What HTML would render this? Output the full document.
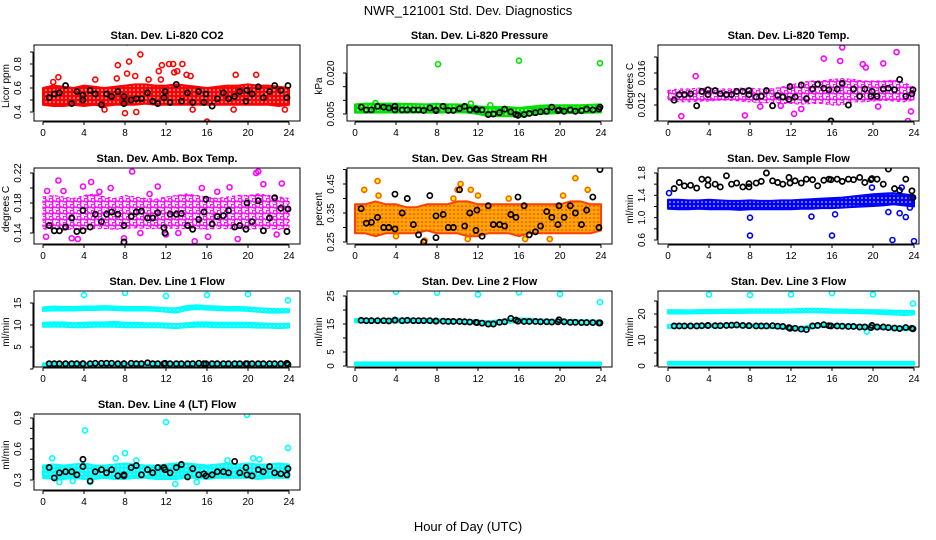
<!DOCTYPE html>
<html><head><meta charset="utf-8"><style>
html,body{margin:0;padding:0;background:#fff;}
svg{display:block;font-family:"Liberation Sans",sans-serif;}
</style></head><body>
<svg id="c" width="936" height="540" viewBox="0 0 936 540" xmlns="http://www.w3.org/2000/svg">
<text x="468" y="15" text-anchor="middle" font-size="13">NWR_121001  Std. Dev. Diagnostics</text>
<text x="468" y="531" text-anchor="middle" font-size="13">Hour of Day (UTC)</text>
</svg>
<script>
const hours = [0,1,2,3,4,5,6,7,8,9,10,11,12,13,14,15,16,17,18,19,20,21,22,23,24];
const blackT = [0.6,1.1,1.6,2.2,2.8,3.3,3.9,3.9,4.6,5.1,5.7,6.2,6.7,7.3,7.9,7.9,8.6,9.1,9.6,10.2,10.7,11.2,11.8,11.9,12.4,13.0,13.5,14.1,14.6,15.2,15.7,15.9,16.5,17.0,17.6,18.1,18.7,19.2,19.8,19.9,20.4,21.0,21.5,22.1,22.6,23.2,23.8,23.9];

// Panel 1 CO2
const co2Lo = [0.46,0.45,0.45,0.46,0.45,0.46,0.45,0.46,0.46,0.46,0.47,0.46,0.46,0.46,0.46,0.46,0.46,0.46,0.46,0.46,0.46,0.46,0.46,0.45,0.46];
const co2Hi = [0.60,0.62,0.61,0.60,0.62,0.61,0.60,0.61,0.62,0.63,0.63,0.62,0.62,0.63,0.62,0.61,0.60,0.61,0.62,0.62,0.63,0.62,0.62,0.61,0.60];
const co2OutT = [1.5,1.0,7.3,7.2,8.2,8.4,8.2,9.5,9.0,8.0,9.1,11.3,11.6,11.5,12.3,12.7,12.8,13.1,13.6,14.0,14.4,14.6,16.0,6.0,18.8,20.8,18.6,23.6,5.1,10.3];
const co2OutV = [0.69,0.65,0.79,0.68,0.98,0.82,0.72,0.88,0.70,0.39,0.40,0.74,0.79,0.67,0.80,0.80,0.73,0.74,0.80,0.71,0.70,0.42,0.32,0.42,0.71,0.71,0.42,0.42,0.67,0.67];
const co2Black = [0.52,0.55,0.56,0.62,0.47,0.57,0.50,0.54,0.58,0.55,0.46,0.55,0.53,0.57,0.53,0.47,0.50,0.51,0.51,0.56,0.49,0.47,0.52,0.57,0.48,0.63,0.49,0.56,0.48,0.57,0.48,0.55,0.45,0.51,0.56,0.51,0.53,0.57,0.49,0.58,0.55,0.61,0.52,0.57,0.62,0.58,0.52,0.62];
// Panel 2 Pressure
const prLo = [0.0055,0.0055,0.0055,0.0056,0.0055,0.0055,0.0056,0.0055,0.0055,0.0056,0.0056,0.0055,0.0050,0.0042,0.0042,0.0042,0.0040,0.0045,0.0050,0.0052,0.0053,0.0053,0.0054,0.0055,0.0056];
const prHi = [0.0085,0.0088,0.0088,0.0088,0.0088,0.0087,0.0086,0.0085,0.0087,0.0085,0.0085,0.0083,0.0078,0.0075,0.0075,0.0075,0.0072,0.0076,0.0080,0.0082,0.0082,0.0082,0.0082,0.0084,0.0085];
const prOutT = [8.1,16.0,23.9,2.0,11.3,13.2];
const prOutV = [0.0232,0.0245,0.0236,0.0090,0.0088,0.0082];
const prBlack = [0.0075,0.0065,0.0065,0.0078,0.0075,0.0072,0.0065,0.0078,0.0065,0.0065,0.0065,0.0065,0.0063,0.0072,0.0062,0.0065,0.0078,0.0063,0.0063,0.0070,0.0078,0.0065,0.0068,0.0065,0.0065,0.0048,0.0050,0.0055,0.0068,0.0058,0.0048,0.0045,0.0048,0.0052,0.0055,0.0058,0.0060,0.0075,0.0062,0.0065,0.0060,0.0065,0.0060,0.0062,0.0068,0.0065,0.0068,0.0075];
// Panel 3 Temp
const tpLo = [0.0126,0.0124,0.0124,0.0125,0.0125,0.0126,0.0126,0.0125,0.0124,0.0123,0.0123,0.0122,0.0122,0.0121,0.0122,0.0122,0.0120,0.0120,0.0124,0.0124,0.0125,0.0126,0.0125,0.0124,0.0126];
const tpHi = [0.0138,0.0140,0.0140,0.0141,0.0141,0.0140,0.0140,0.0141,0.0141,0.0140,0.0140,0.0142,0.0145,0.0148,0.0150,0.0150,0.0152,0.0153,0.0152,0.0150,0.0150,0.0150,0.0151,0.0148,0.0142];
const tpOutT = [1.3,7.5,15.2,17.0,17.5,19.0,19.3,21.0,22.3,23.4,23.7,12.3,16.8,13.0,2.7,9.0,11.0,20.5];
const tpOutV = [0.0106,0.0107,0.0178,0.0192,0.0199,0.0171,0.0167,0.0172,0.0186,0.0100,0.0112,0.0109,0.0175,0.0115,0.0156,0.0118,0.0119,0.0118];
const tpBlack = [0.0126,0.0133,0.0133,0.0134,0.0119,0.0137,0.0133,0.0139,0.0138,0.0134,0.0133,0.0133,0.0137,0.0137,0.0138,0.0133,0.0130,0.0131,0.0138,0.0119,0.0132,0.0130,0.0127,0.0143,0.0130,0.0145,0.0128,0.0140,0.0146,0.0141,0.0139,0.0100,0.0140,0.0147,0.0120,0.0140,0.0131,0.0140,0.0131,0.0137,0.0131,0.0140,0.0141,0.0139,0.0152,0.0131,0.0134,0.0139];
// Panel 4 Amb box
const abLo = [0.145,0.146,0.144,0.146,0.145,0.146,0.146,0.145,0.146,0.147,0.146,0.146,0.147,0.146,0.146,0.146,0.145,0.146,0.146,0.146,0.145,0.146,0.146,0.145,0.146];
const abHi = [0.188,0.190,0.188,0.186,0.190,0.192,0.188,0.186,0.190,0.188,0.186,0.185,0.188,0.190,0.192,0.190,0.188,0.186,0.188,0.190,0.190,0.192,0.190,0.188,0.186];
const abOutT = [1.5,3.4,4.7,8.7,11.2,14.8,18.2,20.8,21.0,21.5,23.3,0.3,2.0,7.9,13.2,16.1,19.0,22.8,10.4,5.5,3.9,6.6,0.4,9.5,17.0,12.0,15.5,2.8];
const abOutV = [0.21,0.132,0.208,0.222,0.202,0.129,0.201,0.22,0.222,0.205,0.206,0.135,0.196,0.133,0.14,0.135,0.132,0.138,0.192,0.195,0.202,0.2,0.196,0.140,0.195,0.138,0.200,0.133];
const abBlack = [0.150,0.143,0.143,0.148,0.160,0.142,0.143,0.170,0.148,0.165,0.155,0.165,0.168,0.165,0.150,0.128,0.162,0.168,0.169,0.160,0.160,0.167,0.147,0.140,0.165,0.165,0.166,0.150,0.145,0.158,0.168,0.185,0.152,0.162,0.163,0.170,0.148,0.150,0.145,0.180,0.155,0.183,0.143,0.160,0.187,0.173,0.142,0.172];
// Panel 5 RH
const rhLo = [0.28,0.28,0.27,0.28,0.28,0.28,0.28,0.29,0.28,0.28,0.28,0.27,0.27,0.28,0.28,0.28,0.27,0.28,0.28,0.28,0.28,0.28,0.28,0.28,0.29];
const rhHi = [0.38,0.38,0.39,0.38,0.38,0.37,0.37,0.38,0.38,0.38,0.39,0.39,0.38,0.38,0.38,0.38,0.38,0.38,0.38,0.38,0.38,0.39,0.39,0.38,0.38];
const rhOutT = [2.2,0.9,10.3,10.0,11.3,21.5,22.7,16.6,19.0,4.0,6.8,11.0,2.3,9.6,12.0,15.0,20.3];
const rhOutV = [0.46,0.43,0.45,0.43,0.43,0.47,0.43,0.26,0.26,0.27,0.255,0.26,0.41,0.40,0.41,0.40,0.41];
const rhBlack = [0.365,0.315,0.318,0.335,0.300,0.300,0.295,0.415,0.350,0.400,0.310,0.275,0.250,0.410,0.265,0.340,0.345,0.300,0.300,0.430,0.305,0.350,0.290,0.360,0.270,0.375,0.310,0.310,0.305,0.345,0.335,0.405,0.375,0.275,0.285,0.305,0.355,0.335,0.310,0.375,0.335,0.375,0.350,0.310,0.360,0.405,0.300,0.500];
// Panel 6 Sample flow
const sfLo = [1.16,1.15,1.15,1.16,1.15,1.15,1.15,1.14,1.15,1.15,1.15,1.15,1.15,1.16,1.16,1.17,1.17,1.18,1.19,1.20,1.21,1.22,1.24,1.22,1.20];
const sfHi = [1.32,1.32,1.31,1.31,1.32,1.31,1.30,1.30,1.31,1.30,1.30,1.31,1.31,1.32,1.33,1.34,1.35,1.36,1.38,1.40,1.42,1.43,1.44,1.42,1.40];
const sfOutT = [8.0,8.0,16.0,21.9,24.0,14.0,16.3,23.2,22.6,19.9,22.8,0.1,21.5,23.6];
const sfOutV = [1.0,0.68,0.68,0.6,0.58,1.02,1.06,1.01,1.08,1.54,1.54,1.44,1.10,1.18];
const sfBlack = [1.52,1.63,1.57,1.58,1.53,1.69,1.68,1.58,1.60,1.55,1.75,1.60,1.62,1.55,1.55,1.61,1.62,1.65,1.80,1.66,1.63,1.60,1.72,1.62,1.66,1.62,1.69,1.68,1.57,1.67,1.69,1.68,1.69,1.65,1.69,1.68,1.72,1.63,1.68,1.70,1.69,1.60,1.87,1.52,1.49,1.69,1.48,1.36];
// Panel 7 Line 1
const l1aLo = [13.2,13.3,13.3,13.3,13.4,13.4,13.5,13.4,13.3,13.3,13.3,13.2,13.0,12.8,13.4,13.6,13.5,13.4,13.3,13.3,13.2,13.0,12.8,12.8,12.9];
const l1aHi = [14.0,14.2,14.1,14.1,14.2,14.2,14.3,14.2,14.1,14.1,14.1,14.0,13.8,13.8,14.3,14.5,14.3,14.2,14.1,14.1,14.0,13.8,13.7,13.6,13.6];
const l1bLo = [9.6,9.6,9.6,9.5,9.5,9.6,9.6,9.6,9.5,9.5,9.5,9.5,9.4,9.3,9.5,9.6,9.6,9.5,9.5,9.5,9.5,9.4,9.4,9.3,9.4];
const l1bHi = [10.5,10.6,10.6,10.4,10.5,10.6,10.6,10.7,10.5,10.5,10.4,10.4,10.3,10.2,10.4,10.6,10.6,10.5,10.5,10.5,10.5,10.4,10.3,10.2,10.3];
const l1cLo = [0.5,0.5,0.5,0.5,0.5,0.5,0.5,0.5,0.5,0.5,0.5,0.5,0.5,0.5,0.5,0.5,0.5,0.5,0.5,0.5,0.5,0.5,0.5,0.5,0.5];
const l1cHi = [1.3,1.3,1.3,1.3,1.3,1.3,1.3,1.3,1.3,1.3,1.3,1.3,1.3,1.3,1.3,1.3,1.3,1.3,1.3,1.3,1.3,1.3,1.3,1.3,1.3];
const l1OutT = [4.0,8.0,12.0,16.0,20.0,23.9];
const l1OutV = [16.8,17.3,16.6,16.8,17.0,15.6];
const l1Black = [1.2,1.2,1.2,1.2,1.2,1.2,1.2,1.2,1.2,1.3,1.3,1.3,1.3,1.2,1.2,1.2,1.3,1.2,1.2,1.4,1.2,1.2,1.2,1.3,1.2,1.2,1.2,1.2,1.2,1.3,1.2,1.2,1.2,1.2,1.2,1.2,1.2,1.2,1.2,1.2,1.2,1.2,1.2,1.2,1.2,1.2,1.3,1.0];
// Panel 8 Line 2
const l2aLo = [15.6,15.6,15.6,15.6,15.6,15.5,15.6,15.6,15.5,15.5,15.4,15.3,15.0,14.8,15.0,15.5,15.6,15.6,15.5,15.4,15.4,15.3,15.2,15.2,15.2];
const l2aHi = [16.8,16.8,16.8,16.8,16.9,16.9,16.8,16.8,16.7,16.6,16.5,16.4,16.2,16.0,16.3,16.8,17.0,16.9,16.6,16.5,16.5,16.4,16.3,16.2,16.2];
const l2bLo = [0.3,0.3,0.3,0.3,0.3,0.3,0.3,0.3,0.3,0.3,0.3,0.3,0.3,0.3,0.3,0.3,0.3,0.3,0.3,0.3,0.3,0.3,0.3,0.3,0.3];
const l2bHi = [1.3,1.3,1.3,1.3,1.3,1.3,1.3,1.3,1.3,1.3,1.3,1.3,1.3,1.3,1.3,1.3,1.3,1.3,1.3,1.3,1.3,1.3,1.3,1.3,1.3];
const l2OutT = [4.0,8.0,12.0,16.0,20.0,23.9];
const l2OutV = [26.5,26.2,25.5,26.3,25.7,22.8];
const l2Black = [16.3,16.2,16.2,16.2,16.2,16.1,16.3,16.4,16.2,16.3,16.2,16.2,16.2,16.2,16.0,16.1,16.0,15.9,15.9,15.9,15.8,15.7,15.6,15.5,15.3,15.0,15.0,15.6,15.8,17.0,16.4,16.0,15.9,15.9,15.9,15.8,15.8,15.7,15.8,16.5,15.8,15.6,15.6,15.5,15.5,15.5,15.4,15.4];
// Panel 9 Line 3
const l3aLo = [20.2,20.2,20.2,20.3,20.3,20.4,20.4,20.4,20.5,20.5,20.5,20.5,20.6,20.6,20.7,20.6,20.5,20.5,20.4,20.3,20.2,20.0,19.8,19.6,19.8];
const l3aHi = [21.5,21.5,21.4,21.5,21.6,21.6,21.7,21.7,21.8,21.8,21.8,21.8,21.8,21.9,22.0,21.9,21.8,21.7,21.6,21.5,21.5,21.4,21.3,21.2,21.2];
const l3bLo = [14.6,14.8,14.8,14.8,14.9,14.9,15.0,14.9,14.8,14.8,14.6,14.4,14.0,13.6,14.5,15.0,14.9,14.8,14.6,14.5,14.4,14.2,14.0,13.8,13.8];
const l3bHi = [15.8,15.9,15.9,15.9,16.0,16.1,16.2,16.0,15.9,15.8,15.6,15.4,15.1,14.9,15.8,16.2,16.0,15.9,15.8,15.7,15.6,15.4,15.2,15.1,15.0];
const l3cLo = [0.5,0.5,0.5,0.5,0.5,0.5,0.5,0.5,0.5,0.5,0.5,0.5,0.5,0.5,0.5,0.5,0.5,0.5,0.5,0.5,0.5,0.5,0.5,0.5,0.5];
const l3cHi = [1.6,1.6,1.6,1.6,1.6,1.6,1.6,1.6,1.6,1.6,1.6,1.6,1.6,1.6,1.6,1.6,1.6,1.6,1.6,1.6,1.6,1.6,1.6,1.6,1.6];
const l3OutT = [4.0,8.0,12.0,16.0,20.0,23.9,19.4];
const l3OutV = [27.5,27.3,27.5,28.0,27.5,24.0,13.2];
const l3Black = [15.4,15.4,15.4,15.4,15.4,15.5,15.6,15.6,15.5,15.5,15.6,15.7,15.8,15.6,15.5,15.5,15.4,15.4,15.4,15.5,15.3,15.2,14.8,14.5,14.5,14.2,14.0,15.4,15.6,15.9,15.5,15.4,15.4,15.3,15.2,15.2,15.0,15.0,14.8,15.6,15.0,15.0,14.8,14.6,14.4,14.8,14.5,14.3];
// Panel 10 Line 4
const l4Lo = [0.32,0.31,0.31,0.32,0.31,0.31,0.32,0.31,0.31,0.32,0.32,0.31,0.31,0.31,0.32,0.32,0.31,0.32,0.32,0.32,0.32,0.31,0.32,0.32,0.32];
const l4Hi = [0.44,0.45,0.44,0.45,0.46,0.44,0.44,0.45,0.46,0.45,0.44,0.44,0.45,0.46,0.46,0.45,0.44,0.45,0.46,0.45,0.46,0.45,0.45,0.46,0.45];
const l4OutT = [4.1,12.0,19.9,23.9,0.9,8.0,12.9,15.0,1.6,2.9,7.1,9.1,20.5,21.1,18.0,4.6];
const l4OutV = [0.78,0.86,0.93,0.61,0.51,0.56,0.26,0.28,0.28,0.29,0.51,0.49,0.51,0.50,0.49,0.28];
const l4Black = [0.42,0.32,0.37,0.38,0.38,0.35,0.50,0.43,0.29,0.38,0.40,0.37,0.40,0.34,0.34,0.35,0.42,0.44,0.35,0.40,0.37,0.42,0.42,0.40,0.37,0.42,0.45,0.33,0.41,0.35,0.36,0.34,0.35,0.38,0.38,0.37,0.48,0.37,0.42,0.35,0.34,0.40,0.38,0.43,0.37,0.36,0.35,0.41];

const xTicks = [0,4,8,12,16,20,24];

// layout (pixel calibration, not data)
const cols = [{l:34,r:300,x0:43},{l:347,r:612,x0:355},{l:658,r:919,x0:668}];
const rows = [45,168,291,414];
const H = 76, PXH = 246/24;

const panels = [
 {name:'co2',title:'Stan. Dev. Li-820 CO2',ylab:'Licor ppm',c:0,r:0,v1:0.4,p1:67,v2:0.8,p2:19,ticks:[0.4,0.5,0.6,0.7,0.8,0.9],labels:[0.4,0.6,0.8],fmt:1,color:'#ff0000',sparse:false,bands:[[co2Lo,co2Hi]],oT:co2OutT,oV:co2OutV,bV:co2Black},
 {name:'pressure',title:'Stan. Dev. Li-820 Pressure',ylab:'kPa',c:1,r:0,v1:0.005,p1:69,v2:0.020,p2:28,ticks:[0.005,0.010,0.015,0.020],labels:[0.005,0.020],fmt:3,color:'#00e000',sparse:false,bands:[[prLo,prHi]],oT:prOutT,oV:prOutV,bV:prBlack},
 {name:'temp',title:'Stan. Dev. Li-820 Temp.',ylab:'degrees C',c:2,r:0,v1:0.012,p1:60,v2:0.016,p2:28,ticks:[0.010,0.012,0.014,0.016,0.018],labels:[0.012,0.016],fmt:3,color:'#ff00ff',sparse:true,bands:[[tpLo,tpHi]],oT:tpOutT,oV:tpOutV,bV:tpBlack},
 {name:'amb-box-temp',title:'Stan. Dev. Amb. Box Temp.',ylab:'degrees C',c:0,r:1,v1:0.14,p1:65,v2:0.22,p2:5,ticks:[0.14,0.16,0.18,0.20,0.22],labels:[0.14,0.18,0.22],fmt:2,color:'#ff00ff',sparse:true,bands:[[abLo,abHi]],oT:abOutT,oV:abOutV,bV:abBlack},
 {name:'gas-rh',title:'Stan. Dev. Gas Stream RH',ylab:'percent',c:1,r:1,v1:0.25,p1:74,v2:0.45,p2:16,ticks:[0.25,0.30,0.35,0.40,0.45,0.50],labels:[0.25,0.35,0.45],fmt:2,color:'#ffa500',rh:true,sparse:false,bands:[[rhLo,rhHi]],oT:rhOutT,oV:rhOutV,bV:rhBlack},
 {name:'sample-flow',title:'Stan. Dev. Sample Flow',ylab:'ml/min',c:2,r:1,v1:1.8,p1:5,v2:0.6,p2:72,ticks:[0.6,0.8,1.0,1.2,1.4,1.6,1.8],labels:[0.6,1.0,1.4,1.8],fmt:1,color:'#0000ff',sparse:false,bands:[[sfLo,sfHi]],oT:sfOutT,oV:sfOutV,bV:sfBlack},
 {name:'line1-flow',title:'Stan. Dev. Line 1 Flow',ylab:'ml/min',c:0,r:2,v1:0,p1:78,v2:15,p2:12,ticks:[0,5,10,15],labels:[5,10,15],fmt:0,color:'#00ffff',sparse:false,bands:[[l1aLo,l1aHi],[l1bLo,l1bHi],[l1cLo,l1cHi]],oT:l1OutT,oV:l1OutV,bV:l1Black},
 {name:'line2-flow',title:'Stan. Dev. Line 2 Flow',ylab:'ml/min',c:1,r:2,v1:0,p1:75,v2:25,p2:5,ticks:[0,5,10,15,20,25],labels:[0,5,15,25],fmt:0,color:'#00ffff',sparse:false,bands:[[l2aLo,l2aHi],[l2bLo,l2bHi]],oT:l2OutT,oV:l2OutV,bV:l2Black},
 {name:'line3-flow',title:'Stan. Dev. Line 3 Flow',ylab:'ml/min',c:2,r:2,v1:0,p1:75,v2:25,p2:10,ticks:[0,5,10,15,20,25],labels:[0,10,20],fmt:0,color:'#00ffff',sparse:false,bands:[[l3aLo,l3aHi],[l3bLo,l3bHi],[l3cLo,l3cHi]],oT:l3OutT,oV:l3OutV,bV:l3Black},
 {name:'line4-flow',title:'Stan. Dev. Line 4 (LT) Flow',ylab:'ml/min',c:0,r:3,v1:0.3,p1:66,v2:0.9,p2:4,ticks:[0.3,0.4,0.5,0.6,0.7,0.8,0.9],labels:[0.3,0.6,0.9],fmt:1,color:'#00ffff',sparse:false,bands:[[l4Lo,l4Hi]],oT:l4OutT,oV:l4OutV,bV:l4Black}
];

const svg = document.getElementById('c');
const NS = 'http://www.w3.org/2000/svg';
function mk(tag, attrs, parent){ const e=document.createElementNS(NS,tag); for(const k in attrs) e.setAttribute(k,attrs[k]); (parent||svg).appendChild(e); return e; }

const defs = mk('defs',{});
function densePattern(id,color,dot){
  const p = mk('pattern',{id:id,width:4,height:4,patternUnits:'userSpaceOnUse'},defs);
  mk('rect',{x:0,y:0,width:4,height:4,fill:color},p);
  mk('circle',{cx:2,cy:2,r:0.8,fill:dot},p);
}
function sparsePattern(id,color){
  const p = mk('pattern',{id:id,width:7,height:6,patternUnits:'userSpaceOnUse'},defs);
  mk('rect',{x:0,y:0,width:7,height:6,fill:'#ffffff'},p);
  mk('circle',{cx:2,cy:2,r:2,fill:'none',stroke:color,'stroke-width':1.4},p);
  mk('circle',{cx:5.5,cy:5,r:2,fill:'none',stroke:color,'stroke-width':1.4},p);
}

panels.forEach((P,i)=>{
  const col = cols[P.c], top = rows[P.r], bot = top+H;
  const xs = t => col.x0 + t*PXH;
  const ys = v => top + P.p1 + (v-P.v1)*(P.p2-P.p1)/(P.v2-P.v1);
  const g = mk('g',{});
  
  
  const pid = 'pat'+i;
  if(P.rh) densePattern(pid,'#ffa500','#ff2000');
  else if(P.sparse) sparsePattern(pid,P.color);
  else densePattern(pid,P.color,'#ffffff');
  const cp = mk('clipPath',{id:'cp'+i},defs);
  mk('rect',{x:col.l,y:top,width:col.r-col.l,height:H},cp);
  const data = mk('g',{'clip-path':'url(#cp'+i+')'},g);
  P.bands.forEach((b,bi)=>{
    const lo=b[0], hi=b[1];
    let pts=[];
    hours.forEach((h,k)=>pts.push(xs(h)+','+ys(hi[k])));
    for(let k=hours.length-1;k>=0;k--) pts.push(xs(hours[k])+','+ys(lo[k]));
    const poly = mk('polygon',{points:pts.join(' '),fill:'url(#'+pid+')',stroke:P.rh?'#ff4000':P.color,'stroke-width':P.sparse?1.2:2,'stroke-dasharray':P.sparse?'3 3':'none','stroke-linejoin':'round'},data);
    
    
  });
  P.oT.forEach((t,k)=>{
    const c = mk('circle',{cx:xs(t),cy:ys(P.oV[k]),r:2.5,fill:P.rh?'#ffff00':'none',stroke:P.rh?'#ff6000':P.color,'stroke-width':1.6},data);
    
    
  });
  blackT.forEach((t,k)=>{
    const c = mk('circle',{cx:xs(t),cy:ys(P.bV[k]),r:2.6,fill:'none',stroke:'#000','stroke-width':1.7},data);
    
    
  });
  mk('rect',{x:col.l,y:top,width:col.r-col.l,height:H,fill:'none',stroke:'#000','stroke-width':1},g);
  const tt = mk('text',{x:(col.l+col.r)/2,y:top-6,'text-anchor':'middle','font-size':11,'font-weight':'bold'},g);
  tt.textContent = P.title;
  
  
  mk('line',{x1:xs(0),x2:xs(24),y1:bot+1,y2:bot+1,stroke:'#000'},g);
  xTicks.forEach(v=>{
    mk('line',{x1:xs(v),x2:xs(v),y1:bot+1,y2:bot+4,stroke:'#000'},g);
    const tx = mk('text',{x:xs(v),y:bot+15,'text-anchor':'middle','font-size':10},g);
    tx.textContent = v;
    
    
  });
  const ya = P.ticks.map(ys);
  mk('line',{x1:col.l-1,x2:col.l-1,y1:Math.min(...ya),y2:Math.max(...ya),stroke:'#000'},g);
  P.ticks.forEach(v=>mk('line',{x1:col.l-4,x2:col.l-1,y1:ys(v),y2:ys(v),stroke:'#000'},g));
  P.labels.forEach(v=>{
    const y=ys(v), x=col.l-13;
    const tx = mk('text',{x:x,y:y,'text-anchor':'middle','font-size':10,transform:'rotate(-90 '+x+' '+y+')'},g);
    tx.textContent = v.toFixed(P.fmt);
    
    
  });
  const lx = col.l-25, ly = top+H/2;
  const yl = mk('text',{x:lx,y:ly+3,'text-anchor':'middle','font-size':10,transform:'rotate(-90 '+lx+' '+(ly+3)+')'},g);
  yl.textContent = P.ylab;
  
  
});
</script>
</body></html>
